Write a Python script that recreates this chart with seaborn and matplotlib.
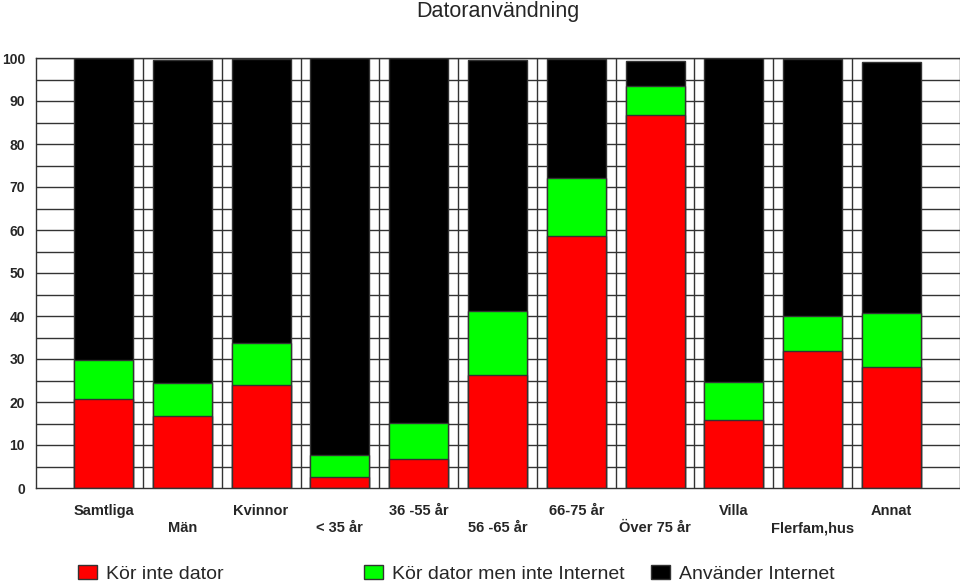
import matplotlib
matplotlib.use("Agg")
import matplotlib.pyplot as plt
import seaborn as sns
import numpy as np
from matplotlib.patches import Patch

categories = ["Samtliga", "Män", "Kvinnor", "< 35 år", "36 -55 år", "56 -65 år",
              "66-75 år", "Över 75 år", "Villa", "Flerfam,hus", "Annat"]
kor_inte_dator = [20.7, 16.7, 24.0, 2.6, 6.7, 26.3, 58.6, 86.7, 15.8, 31.8, 28.2]
dator_ej_internet = [9.1, 7.7, 9.7, 5.1, 8.4, 14.9, 13.5, 6.8, 8.9, 8.3, 12.4]
anvander_internet = [70.2, 75.1, 66.1, 92.3, 84.9, 58.3, 27.7, 5.8, 75.3, 59.7, 58.5]
series_names = ["Kör inte dator", "Kör dator men inte Internet", "Använder Internet"]
colors = ["#ff0000", "#00ff00", "#000000"]

sns.set_style("white")
plt.rcParams["font.family"] = ["Liberation Sans", "DejaVu Sans"]

fig = plt.figure(figsize=(9.6, 5.82), dpi=100)
ax = fig.add_axes([36 / 960, (582 - 488) / 582, 1 - 36 / 960, (488 - 58) / 582])

red = np.array(kor_inte_dator)
green = red + np.array(dator_ej_internet)
black = green + np.array(anvander_internet)

# back to front: total, then red+green, then red
for vals, col in zip([black, green, red], colors[::-1]):
    sns.barplot(x=categories, y=vals, color=col, width=0.75, edgecolor="#333333",
                linewidth=1, saturation=1, ax=ax, zorder=2)

for y in np.arange(5, 101, 5):
    ax.axhline(y, color="#333333", lw=1, zorder=0.5)
for xv in np.arange(0.5, 10, 1):
    ax.axvline(xv, color="#333333", lw=1, zorder=0.5)

ax.set_xlim(-0.857, 10.87)
ax.set_ylim(0, 100)
ax.set_yticks(range(0, 101, 10))
ax.set_yticklabels([str(v) for v in range(0, 101, 10)], fontsize=10, fontweight="bold")
labels = [c if i % 2 == 0 else "\n" + c for i, c in enumerate(categories)]
ax.set_xticks(range(len(categories)))
ax.set_xticklabels(labels, fontsize=10.5, fontweight="bold", linespacing=1.3)
ax.tick_params(axis="y", length=0, pad=8)
ax.tick_params(axis="x", length=0, pad=11.5)
ax.set_xlabel("")
ax.set_ylabel("")
for s in ax.spines.values():
    s.set_color("#333333")
    s.set_linewidth(1)

fig.text(498 / 960, 1 - 12 / 582, "Datoranvändning", ha="center", va="center", fontsize=15.5)

leg_x = [78, 364, 651]
for name, col, lx in zip(series_names, colors, leg_x):
    fig.legend(handles=[Patch(facecolor=col, edgecolor="#333333", lw=1)],
               labels=[name], loc="center left",
               bbox_to_anchor=(lx / 960, 1 - 574 / 582), frameon=False,
               borderpad=0, borderaxespad=0, handlelength=1.0, handleheight=0.75,
               handletextpad=0.45, fontsize=14)

fig.savefig("out.png", dpi=100)
